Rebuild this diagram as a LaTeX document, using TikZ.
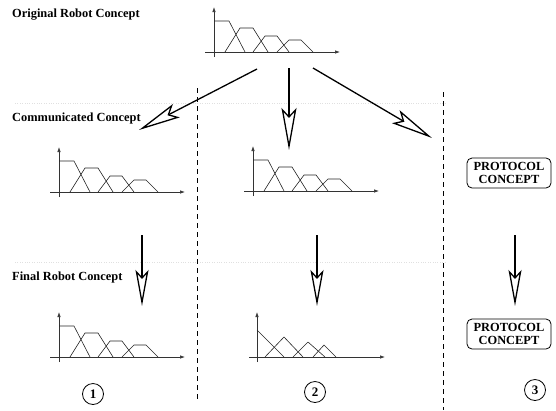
\documentclass[tikz,border=0pt]{standalone}
\usepackage{fontspec}
\setmainfont{Liberation Serif}
\usetikzlibrary{arrows.meta}
\tikzset{
  axis/.style={line width=0.7pt, draw=black!80, -{Latex[length=5pt,width=3.5pt]}},
  mf/.style={line width=0.6pt, draw=black!85, line join=round},
  lbl/.style={font=\fontsize{12.4}{12.4}\selectfont\bfseries, anchor=base west, inner sep=0pt},
  bigarrow/.style={line width=1.3pt, -{Stealth[length=42pt,width=15pt,inset=8pt,open,line width=1.3pt]}},
  downarrow/.style={line width=1.3pt, -{Stealth[length=36pt,width=13pt,inset=7pt,open,line width=1.3pt]}},
  sepline/.style={line width=0.8pt, dash pattern=on 5pt off 4pt},
  guide/.style={draw=black!12, line width=0.4pt, dotted},
  protobox/.style={draw, line width=0.8pt, rounded corners=5pt, minimum width=84pt, minimum height=30pt,
    align=center, inner sep=1pt, font=\fontsize{12.4}{12.4}\selectfont\bfseries},
  numcirc/.style={draw, circle, line width=0.8pt, minimum size=21pt, inner sep=0pt,
    font=\fontsize{13}{13}\selectfont\bfseries},
  trapchart/.pic={
    \draw[axis] (0,5) -- (0,-45);
    \draw[axis] (-9,0) -- (126,0);
    \draw[mf] (0,-31) -- (15,-31) -- (31,0);
    \draw[mf] (11,0) -- (26,-24) -- (39,-24) -- (54,0);
    \draw[mf] (39,0) -- (51,-16) -- (63,-16) -- (75,0);
    \draw[mf] (63,0) -- (75,-12) -- (87,-12) -- (99,0);
  },
  trichart/.pic={
    \draw[axis] (0,5) -- (0,-45);
    \draw[axis] (-8,0) -- (128,0);
    \draw[mf] (0,-27) -- (27,0);
    \draw[mf] (8,0) -- (27,-20) -- (46,0);
    \draw[mf] (36,0) -- (51,-15) -- (68,0);
    \draw[mf] (56,0) -- (67,-12) -- (79,0);
  }
}
\begin{document}
\begin{tikzpicture}[x=1pt,y=-1pt]
\useasboundingbox (0,0) rectangle (556,410);
% faint guides
\draw[guide] (15,103) -- (445,103);
\draw[guide] (15,262) -- (445,262);
% separators
\draw[sepline] (197,88) -- (197,400);
\draw[sepline] (443,92) -- (443,410);
% labels
\node[lbl] (l1) at (12,17) {Original Robot Concept};
\node[lbl] (l2) at (12,121) {Communicated Concept};
\node[lbl] (l3) at (12,280) {Final Robot Concept};
% charts
\pic (top) at (214,52) {trapchart};
\pic (c1) at (59,192) {trapchart};
\pic (c2) at (253,191) {trapchart};
\pic (f1) at (59,357) {trapchart};
\pic (f2) at (257,357) {trichart};
% protocol boxes
\node[protobox] (p1) at (509,173) {PROTOCOL\\CONCEPT};
\node[protobox] (p2) at (509,334) {PROTOCOL\\CONCEPT};
% arrow anchors
\coordinate (s1) at (257,69);
\coordinate (e1) at (139,130);
\coordinate (s2) at (289,68);
\coordinate (e2) at (289,150);
\coordinate (s3) at (313,68);
\coordinate (e3) at (432,138);
\coordinate (d1s) at (142,235);
\coordinate (d1e) at (142,306);
\coordinate (d2s) at (317,235);
\coordinate (d2e) at (317,306);
\coordinate (d3s) at (515,235);
\coordinate (d3e) at (515,306);
\draw[bigarrow] (s1) -- (e1);
\draw[bigarrow] (s2) -- (e2);
\draw[bigarrow] (s3) -- (e3);
\draw[downarrow] (d1s) -- (d1e);
\draw[downarrow] (d2s) -- (d2e);
\draw[downarrow] (d3s) -- (d3e);
% numbers
\node[numcirc] (n1) at (93,394) {1};
\node[numcirc] (n2) at (315,392) {2};
\node[numcirc] (n3) at (535,390) {3};
\end{tikzpicture}
\end{document}
